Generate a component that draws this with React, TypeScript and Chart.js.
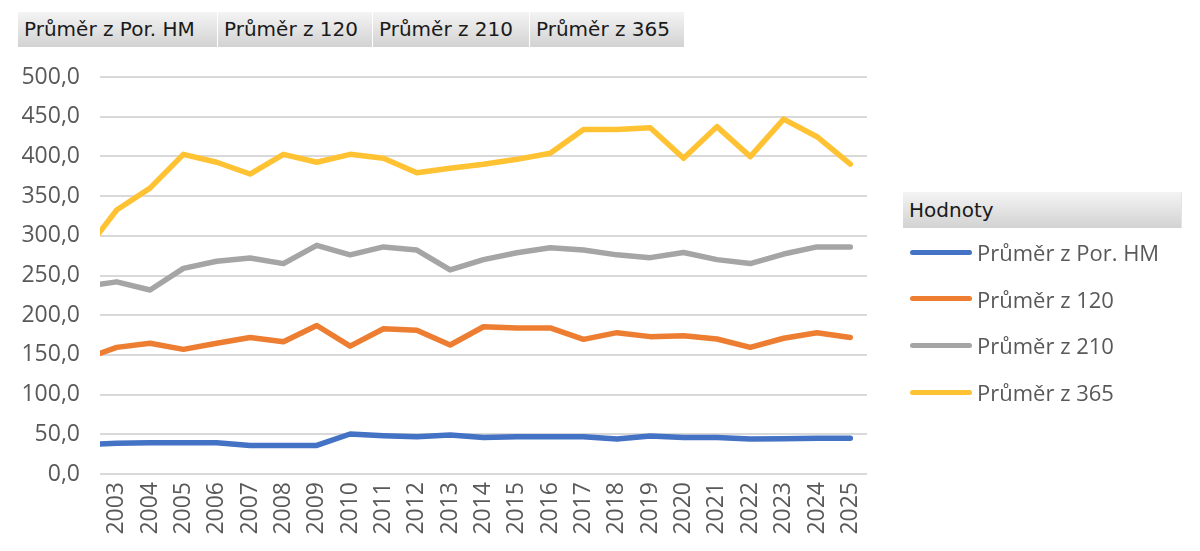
import React, { useEffect, useRef } from "react";
import { Chart, registerables } from "chart.js";

Chart.register(...registerables);

// Categories (2002 lies just outside the visible axis; only its connecting segment shows at the left edge)
const years = [2002, 2003, 2004, 2005, 2006, 2007, 2008, 2009, 2010, 2011, 2012, 2013, 2014, 2015, 2016, 2017, 2018, 2019, 2020, 2021, 2022, 2023, 2024, 2025];
const tickYears = [2003, 2004, 2005, 2006, 2007, 2008, 2009, 2010, 2011, 2012, 2013, 2014, 2015, 2016, 2017, 2018, 2019, 2020, 2021, 2022, 2023, 2024, 2025];

const seriesNames = ["Průměr z Por. HM", "Průměr z 120", "Průměr z 210", "Průměr z 365"];
const legendTitle = "Hodnoty";

const porHM = [37, 38.6, 39.5, 39.5, 39.5, 36, 36, 36, 50.4, 48.3, 47, 49, 46, 47, 47, 47, 44, 48, 46, 46, 44, 44.5, 45, 45];
const z120 = [144.5, 159.5, 164.6, 157, 164.6, 172, 166.6, 187, 161, 183, 181, 162.5, 185.5, 184, 184, 169.6, 178, 173, 174, 170, 159.5, 171, 178, 172];
const z210 = [236, 242, 231.7, 259, 268, 272, 265, 288, 276, 286, 282, 257, 270, 278.7, 285, 282, 276, 272.5, 279, 270, 265, 277, 286, 286];
const z365 = [278, 332.5, 360, 402.6, 392.6, 377.8, 402.6, 392.6, 402.6, 397.6, 379.5, 385, 390, 396.3, 404, 434, 434, 436, 397.6, 437.5, 399.7, 447, 424.8, 390.4];

const seriesValues = [porHM, z120, z210, z365];
const seriesColors = ["#4472C4", "#ED7D31", "#A5A5A5", "#FFC233"];

const yMin = 0;
const yMax = 500;
const yStep = 50;

const tabWidths = [200, 155, 157, 155];

const tabStyle: React.CSSProperties = {
  boxSizing: "border-box",
  height: 35,
  lineHeight: "35px",
  paddingLeft: 6,
  fontFamily: "'DejaVu Sans', sans-serif",
  fontSize: 20,
  color: "#1a1a1a",
  background: "linear-gradient(#f4f4f4, #d2d2d2)",
  borderRight: "1px solid #ffffff",
  whiteSpace: "nowrap",
  overflow: "hidden",
};

export default function App() {
  const ref = useRef<HTMLCanvasElement>(null);

  useEffect(() => {
    const tickFont = { family: "'Open Sans', sans-serif", size: 23 };
    const chart = new Chart(ref.current as HTMLCanvasElement, {
      type: "line",
      data: {
        datasets: seriesNames.map((name, i) => ({
          label: name,
          data: years.map((yr, j) => ({ x: yr, y: seriesValues[i][j] })),
          borderColor: seriesColors[i],
          backgroundColor: seriesColors[i],
          borderWidth: 5.5,
          pointRadius: 0,
          pointHoverRadius: 0,
          borderCapStyle: "round",
          borderJoinStyle: "round",
          tension: 0,
          clip: 0,
        })),
      },
      options: {
        animation: false,
        responsive: false,
        maintainAspectRatio: false,
        devicePixelRatio: 1,
        layout: { padding: { top: 77, right: 333, bottom: 0, left: 0 } },
        plugins: {
          legend: { display: false },
          tooltip: { enabled: false },
        },
        scales: {
          x: {
            type: "linear",
            min: 2002.5,
            max: 2025.5,
            afterBuildTicks: (s: any) => {
              s.ticks = tickYears.map((v) => ({ value: v }));
            },
            afterFit: (s: any) => {
              s.height = 77;
            },
            grid: { display: false, drawTicks: false },
            border: { display: false },
            ticks: {
              autoSkip: false,
              minRotation: 90,
              maxRotation: 90,
              padding: 8,
              color: "#595959",
              font: tickFont,
              callback: (v: any) => String(v),
            },
          },
          y: {
            min: yMin,
            max: yMax,
            afterFit: (s: any) => {
              s.width = 100;
            },
            grid: { color: "#D9D9D9", lineWidth: 2, drawTicks: false },
            border: { display: false },
            ticks: {
              stepSize: yStep,
              padding: 20,
              color: "#595959",
              font: tickFont,
              callback: (v: any) => Number(v).toFixed(1).replace(".", ","),
            },
          },
        },
      },
    } as any);
    return () => chart.destroy();
  }, []);

  return (
    <div style={{ position: "absolute", left: 0, top: 0, width: 1200, height: 551, background: "#ffffff", overflow: "hidden" }}>
      <canvas ref={ref} width={1200} height={551} style={{ position: "absolute", left: 0, top: 0, width: 1200, height: 551, display: "block" }} />
      <div style={{ position: "absolute", left: 18, top: 12, display: "flex" }}>
        {seriesNames.map((n, i) => (
          <div key={n} style={{ ...tabStyle, width: tabWidths[i] }}>{n}</div>
        ))}
      </div>
      <div style={{ ...tabStyle, position: "absolute", left: 903, top: 192, width: 279, height: 36, lineHeight: "36px", borderRight: "1px solid #e8e6c8" }}>
        {legendTitle}
      </div>
      {seriesNames.map((n, i) => (
        <div key={n} style={{ position: "absolute", left: 910, top: 252 + i * 46.7 - 15, height: 30, display: "flex", alignItems: "center" }}>
          <div style={{ width: 62, height: 5, borderRadius: 3, background: seriesColors[i] }} />
          <div style={{ marginLeft: 5, fontFamily: "'Open Sans', sans-serif", fontSize: 22, color: "#595959", whiteSpace: "nowrap", lineHeight: "30px" }}>{n}</div>
        </div>
      ))}
    </div>
  );
}
